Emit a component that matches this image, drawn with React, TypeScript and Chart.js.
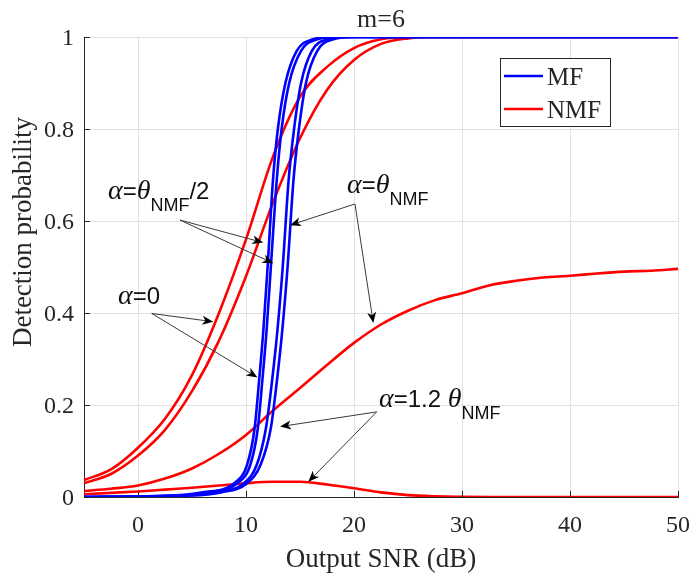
import React, { useEffect, useRef } from "react";
import { Chart, registerables } from "chart.js";

Chart.register(...registerables);

// ---- axis ticks ----
const xTickValues = [0, 10, 20, 30, 40, 50];
const yTickValues = [0, 0.2, 0.4, 0.6, 0.8, 1];

// ---- NMF (red) curves, sampled on a common SNR grid ----
const nmfSnr = [-5, -2.5, 0, 2.5, 5, 7.5, 10, 12.5, 15, 17.5, 20, 22.5, 25, 27.5, 30, 32.5, 35, 37.5, 40, 42.5, 45, 47.5, 50];
const nmfAlpha0 = [0.037, 0.06, 0.107, 0.17, 0.265, 0.4, 0.56, 0.74, 0.87, 0.935, 0.976, 0.995, 1, 1, 1, 1, 1, 1, 1, 1, 1, 1, 1];
const nmfAlphaHalf = [0.03, 0.05, 0.09, 0.146, 0.23, 0.34, 0.48, 0.64, 0.78, 0.885, 0.95, 0.985, 0.997, 1, 1, 1, 1, 1, 1, 1, 1, 1, 1];
const nmfAlpha1 = [0.013, 0.018, 0.025, 0.04, 0.062, 0.094, 0.135, 0.188, 0.237, 0.287, 0.335, 0.375, 0.405, 0.428, 0.443, 0.46, 0.47, 0.477, 0.481, 0.486, 0.49, 0.492, 0.496];
const nmfAlpha12 = [0.006, 0.009, 0.012, 0.016, 0.02, 0.025, 0.03, 0.033, 0.033, 0.027, 0.019, 0.01, 0.004, 0.0015, 0.0005, 0, 0, 0, 0, 0, 0, 0, 0];

// ---- MF (blue) curves: SNR read at given detection-probability levels ----
const mfPd = [0, 0.003, 0.01, 0.03, 0.07, 0.15, 0.25, 0.36, 0.5, 0.69, 0.8, 0.9, 0.97, 0.995, 1, 1];
const mfSnrAlpha0 = [-5, 3.0, 6.0, 8.9, 10.1, 10.8, 11.2, 11.6, 12.0, 12.5, 12.95, 13.65, 14.7, 16.2, 18, 50];
const mfSnrAlphaHalf = [-5, 3.5, 6.5, 9.2, 10.4, 11.1, 11.5, 11.9, 12.3, 12.85, 13.3, 14.0, 15.1, 16.6, 18.5, 50];
const mfSnrAlpha1 = [-5, 4.0, 7.2, 9.8, 11.0, 11.85, 12.4, 12.9, 13.4, 13.95, 14.45, 15.1, 16.1, 17.6, 19.5, 50];
const mfSnrAlpha12 = [-5, 4.5, 7.7, 10.1, 11.35, 12.3, 12.85, 13.35, 13.85, 14.4, 14.9, 15.55, 16.6, 18.1, 20, 50];

// ---- annotation texts (segments: g = greek, s = normal, sub = subscript) ----
const labelHalf: [string, string][] = [["α", "g"], ["=", "s"], ["θ", "g"], ["NMF", "sub"], ["/2", "s"]];
const labelZero: [string, string][] = [["α", "g"], ["=0", "s"]];
const labelTheta: [string, string][] = [["α", "g"], ["=", "s"], ["θ", "g"], ["NMF", "sub"]];
const labelTheta12: [string, string][] = [["α", "g"], ["=1.2 ", "s"], ["θ", "g"], ["NMF", "sub"]];

// annotation anchors in data coordinates (SNR dB, probability)
const annHalf = { text: labelHalf, at: [-2.78, 0.648], from: [3.89, 0.602], tips: [[11.6, 0.553], [12.53, 0.508]] };
const annZero = { text: labelZero, at: [-1.85, 0.42], from: [1.27, 0.399], tips: [[6.97, 0.381], [11.06, 0.26]] };
const annTheta = { text: labelTheta, at: [19.35, 0.661], from: [20.09, 0.637], tips: [[14.07, 0.591], [21.79, 0.378]] };
const annTheta12 = { text: labelTheta12, at: [22.31, 0.196], from: [22.1, 0.185], tips: [[13.15, 0.153], [15.77, 0.033]] };
const annotationList = [annHalf, annZero, annTheta, annTheta12];

const BLUE = "#0000ff";
const RED = "#ff0000";
const AXIS = "#262626";
const GRID = "#e1e1e1";

const SERIF = "'Liberation Serif', 'Times New Roman', serif";
const SANS = "'Liberation Sans', Arial, sans-serif";

export default function App() {
  const ref = useRef<HTMLCanvasElement>(null);

  useEffect(() => {
    const canvas = ref.current;
    if (!canvas) return;

    const toPts = (xs: number[], ys: number[]) => xs.map((x, i) => ({ x, y: ys[i] }));
    const mk = (label: string, xs: number[], ys: number[], color: string) => ({
      label,
      data: toPts(xs, ys),
      borderColor: color,
      backgroundColor: color,
      borderWidth: 2.6,
      pointRadius: 0,
      fill: false,
      cubicInterpolationMode: "monotone" as const,
    });

    // blue first so it is drawn on top
    const datasets = [
      mk("MF α=0", mfSnrAlpha0, mfPd, BLUE),
      mk("MF α=θ/2", mfSnrAlphaHalf, mfPd, BLUE),
      mk("MF α=θ", mfSnrAlpha1, mfPd, BLUE),
      mk("MF α=1.2θ", mfSnrAlpha12, mfPd, BLUE),
      mk("NMF α=0", nmfSnr, nmfAlpha0, RED),
      mk("NMF α=θ/2", nmfSnr, nmfAlphaHalf, RED),
      mk("NMF α=θ", nmfSnr, nmfAlpha1, RED),
      mk("NMF α=1.2θ", nmfSnr, nmfAlpha12, RED),
    ];

    const fontFor = (kind: string) =>
      kind === "g" ? `italic 28px ${SERIF}` : kind === "sub" ? `18px ${SANS}` : `24px ${SANS}`;

    const drawRich = (ctx: CanvasRenderingContext2D, segs: [string, string][], x: number, y: number) => {
      let cx = x;
      for (const [t, kind] of segs) {
        ctx.font = fontFor(kind);
        const dy = kind === "sub" ? 12 : 0;
        ctx.fillText(t, cx, y + dy);
        cx += ctx.measureText(t).width;
      }
    };

    const drawArrow = (ctx: CanvasRenderingContext2D, sx: number, sy: number, tx: number, ty: number) => {
      const dx = tx - sx, dy = ty - sy;
      const len = Math.hypot(dx, dy);
      const ux = dx / len, uy = dy / len;
      const nx = -uy, ny = ux;
      const L = 11, W = 4.5, notch = 3;
      ctx.strokeStyle = "#3a3a3a";
      ctx.lineWidth = 1;
      ctx.beginPath();
      ctx.moveTo(sx, sy);
      ctx.lineTo(tx - ux * (L - notch), ty - uy * (L - notch));
      ctx.stroke();
      ctx.fillStyle = "#000";
      ctx.beginPath();
      ctx.moveTo(tx, ty);
      ctx.lineTo(tx - ux * L + nx * W, ty - uy * L + ny * W);
      ctx.lineTo(tx - ux * (L - notch), ty - uy * (L - notch));
      ctx.lineTo(tx - ux * L - nx * W, ty - uy * L - ny * W);
      ctx.closePath();
      ctx.fill();
    };

    const decor = {
      id: "decor",
      afterDraw(chart: any) {
        const ctx: CanvasRenderingContext2D = chart.ctx;
        const { left, right, top, bottom } = chart.chartArea;
        const xs = chart.scales.x;
        const ys = chart.scales.y;
        ctx.save();

        // inward tick marks
        ctx.strokeStyle = AXIS;
        ctx.lineWidth = 1;
        ctx.beginPath();
        xTickValues.forEach((v) => {
          const p = Math.round(xs.getPixelForValue(v)) + 0.5;
          ctx.moveTo(p, bottom);
          ctx.lineTo(p, bottom - 6);
        });
        yTickValues.forEach((v) => {
          const p = Math.round(ys.getPixelForValue(v)) + 0.5;
          ctx.moveTo(left, p);
          ctx.lineTo(left + 6, p);
        });
        ctx.stroke();

        // tick labels
        ctx.fillStyle = AXIS;
        ctx.font = `24px ${SERIF}`;
        ctx.textBaseline = "alphabetic";
        ctx.textAlign = "right";
        yTickValues.forEach((v) => ctx.fillText(String(v), left - 10, ys.getPixelForValue(v) + 8));
        ctx.textAlign = "center";
        xTickValues.forEach((v) => ctx.fillText(String(v), xs.getPixelForValue(v), bottom + 35));

        // axis titles
        ctx.font = `27px ${SERIF}`;
        ctx.fillText("Output SNR (dB)", (left + right) / 2, bottom + 70);
        ctx.save();
        ctx.translate(31, top + 195);
        ctx.rotate(-Math.PI / 2);
        ctx.textAlign = "center";
        ctx.fillText("Detection probability", 0, 0);
        ctx.restore();

        // title
        ctx.font = `26px ${SERIF}`;
        ctx.textAlign = "center";
        ctx.fillText("m=6", (left + right) / 2, top - 10);

        // legend
        const lw = 110, lh = 68;
        const lx = right - 68 - lw, ly = top + 21;
        ctx.fillStyle = "#fff";
        ctx.fillRect(lx, ly, lw, lh);
        ctx.strokeStyle = AXIS;
        ctx.lineWidth = 1;
        ctx.strokeRect(Math.round(lx) + 0.5, Math.round(ly) + 0.5, lw, lh);
        const entries: [string, string, number][] = [["MF", BLUE, 18], ["NMF", RED, 51]];
        entries.forEach(([name, color, off]) => {
          ctx.strokeStyle = color;
          ctx.lineWidth = 2.6;
          ctx.beginPath();
          ctx.moveTo(lx + 4, ly + off);
          ctx.lineTo(lx + 43, ly + off);
          ctx.stroke();
          ctx.fillStyle = AXIS;
          ctx.font = `25px ${SERIF}`;
          ctx.textAlign = "left";
          ctx.fillText(name, lx + 47, ly + off + 9);
        });

        // annotations
        annotationList.forEach((a) => {
          const sx = xs.getPixelForValue(a.from[0]);
          const sy = ys.getPixelForValue(a.from[1]);
          a.tips.forEach((t) => drawArrow(ctx, sx, sy, xs.getPixelForValue(t[0]), ys.getPixelForValue(t[1])));
          ctx.fillStyle = "#111";
          ctx.textAlign = "left";
          drawRich(ctx, a.text, xs.getPixelForValue(a.at[0]), ys.getPixelForValue(a.at[1]));
        });

        ctx.restore();
      },
    };

    const chart = new Chart(canvas, {
      type: "line",
      data: { datasets: datasets as any },
      options: {
        animation: false,
        responsive: false,
        maintainAspectRatio: false,
        layout: { padding: { top: 37, right: 14, left: 0, bottom: 0 } },
        plugins: { legend: { display: false }, tooltip: { enabled: false }, title: { display: false } },
        elements: { point: { radius: 0 } },
        scales: {
          x: {
            type: "linear",
            min: -5,
            max: 50,
            afterBuildTicks: (s: any) => {
              s.ticks = xTickValues.map((v) => ({ value: v }));
            },
            afterFit: (s: any) => {
              s.height = 78;
            },
            ticks: { display: false },
            grid: { color: GRID, drawTicks: false, lineWidth: 1 },
            border: { color: AXIS, width: 1 },
          },
          y: {
            type: "linear",
            min: 0,
            max: 1,
            afterBuildTicks: (s: any) => {
              s.ticks = yTickValues.map((v) => ({ value: v }));
            },
            afterFit: (s: any) => {
              s.width = 84;
            },
            ticks: { display: false },
            grid: { color: GRID, drawTicks: false, lineWidth: 1 },
            border: { color: AXIS, width: 1 },
          },
        },
      },
      plugins: [decor],
    });

    return () => chart.destroy();
  }, []);

  return (
    <div style={{ position: "absolute", left: 0, top: 0, width: 692, height: 575, background: "#fff" }}>
      <canvas ref={ref} width={692} height={575} style={{ display: "block" }} />
    </div>
  );
}
